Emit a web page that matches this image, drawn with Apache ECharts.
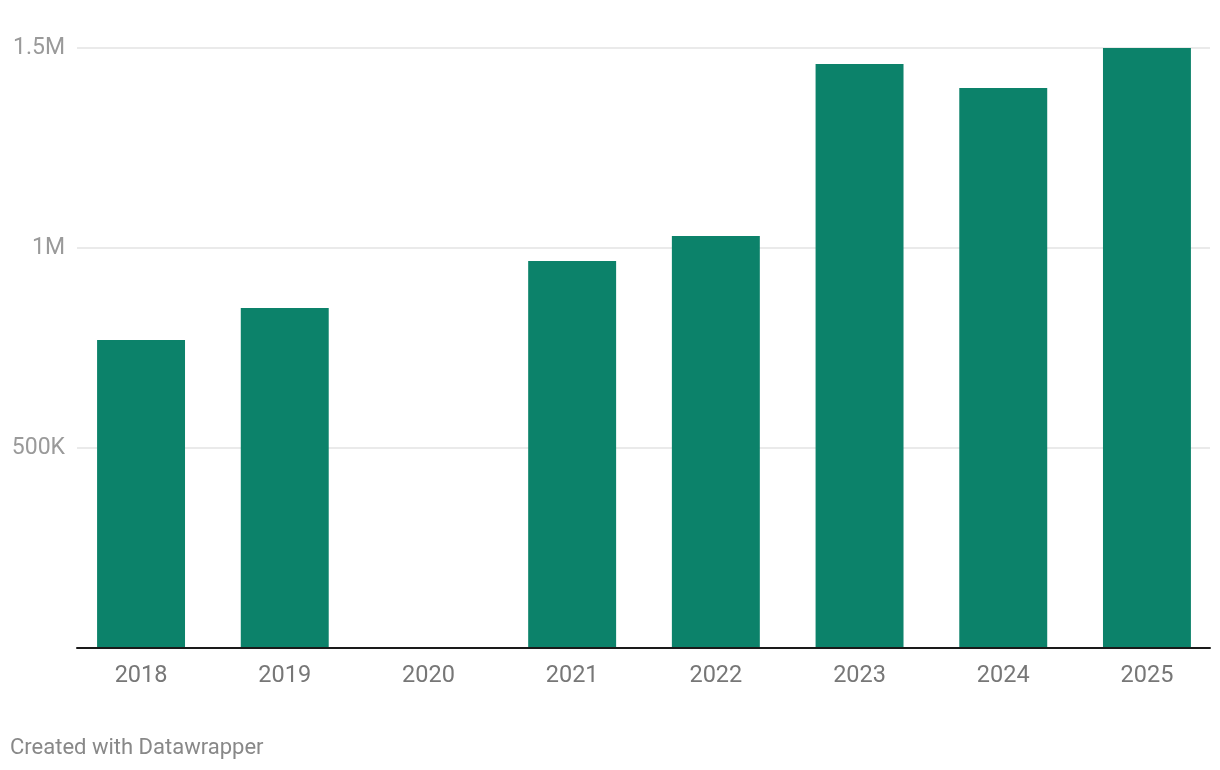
<!DOCTYPE html>
<html>
<head>
<meta charset="utf-8">
<script src="https://cdn.jsdelivr.net/npm/echarts@6/dist/echarts.min.js"></script>
<style>
html,body{margin:0;padding:0;background:#fff;}
#chart{width:1220px;height:770px;}
</style>
</head>
<body>
<div id="chart"></div>
<script>
const categories = ['2018','2019','2020','2021','2022','2023','2024','2025'];
const values = [770000, 850000, null, 967500, 1030000, 1460000, 1400000, 1500000];
const yTicks = [0, 500000, 1000000, 1500000];
const yTickLabels = ['', '500K', '1M', '1.5M'];

const chart = echarts.init(document.getElementById('chart'));
const font = 'Roboto, "Noto Sans", sans-serif';
chart.setOption({
  animation: false,
  backgroundColor: '#ffffff',
  grid: [
    {left: 69.2, right: 1.2, top: 48, bottom: 122},
    {left: 77, right: 10, top: 48, bottom: 122}
  ],
  xAxis: [
    {
      type: 'category', gridIndex: 0, data: categories,
      axisLine: {show: false}, axisTick: {show: false},
      axisLabel: {color: '#777777', fontSize: 23.5, fontFamily: font, margin: 16}
    },
    {
      type: 'value', gridIndex: 1, min: 0, max: 1, z: 5,
      axisLine: {show: true, onZero: false, lineStyle: {color: '#1a1a1a', width: 2}},
      axisTick: {show: false}, axisLabel: {show: false}, splitLine: {show: false}
    }
  ],
  yAxis: [
    {
      type: 'value', gridIndex: 0, min: 0, max: 1500000, interval: 500000,
      axisLine: {show: false}, axisTick: {show: false}, axisLabel: {show: false}, splitLine: {show: false}
    },
    {
      type: 'value', gridIndex: 1, min: 0, max: 1500000, interval: 500000,
      axisLine: {show: false}, axisTick: {show: false},
      axisLabel: {
        color: '#9a9a9a', fontSize: 23, fontFamily: font, margin: 12, padding: [2, 0, 0, 0],
        formatter: function (v) { const i = yTicks.indexOf(v); return i >= 0 ? yTickLabels[i] : ''; }
      },
      splitLine: {show: true, lineStyle: {color: '#e3e3e3', width: 1.5}}
    }
  ],
  series: [{
    type: 'bar', xAxisIndex: 0, yAxisIndex: 0, data: values,
    barWidth: '61.2%', itemStyle: {color: '#0c826a'}, z: 2
  }],
  graphic: [{
    type: 'text', left: 10, top: 737,
    style: {text: 'Created with Datawrapper', fill: '#888888', font: '22px ' + font}
  }]
});
</script>
</body>
</html>
